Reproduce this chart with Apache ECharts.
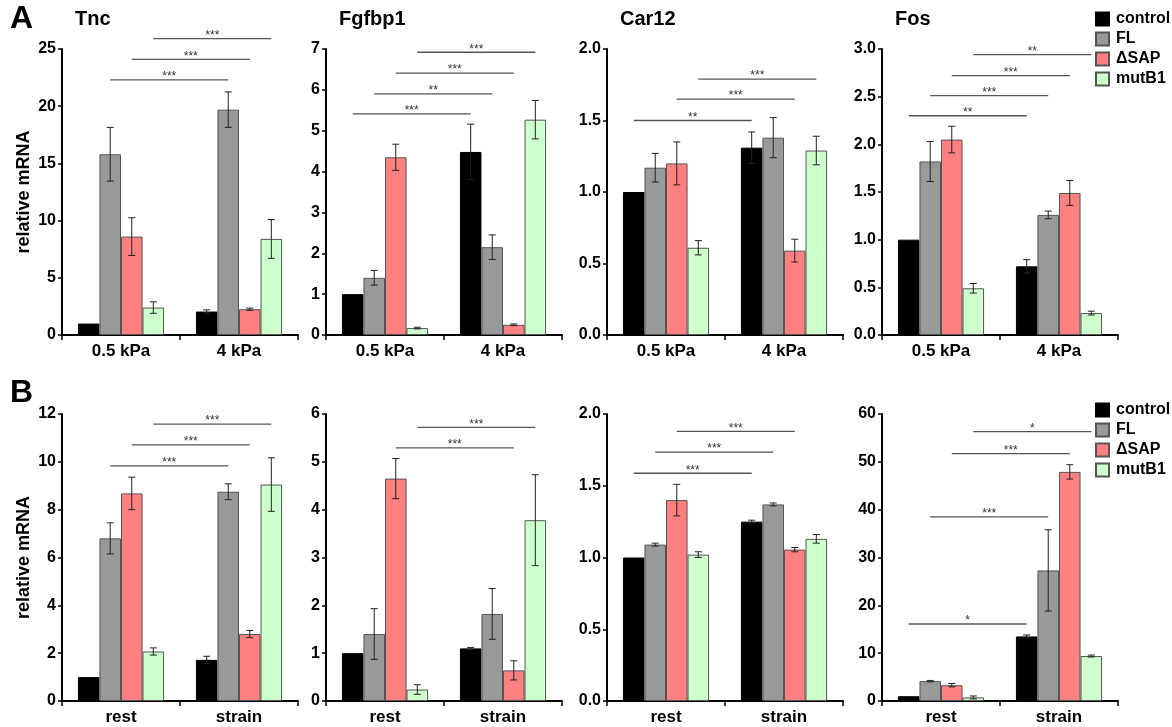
<!DOCTYPE html>
<html><head><meta charset="utf-8">
<script src="https://cdn.jsdelivr.net/npm/echarts@6/dist/echarts.min.js"></script>
<style>html,body{margin:0;padding:0;background:#fff}#c{width:1172px;height:727px}</style>
</head><body><div id="c"></div>
<script>
// ---------- data ----------
const seriesNames = ['control', 'FL', 'ΔSAP', 'mutB1'];
const catsA = ['0.5 kPa', '4 kPa'];
const catsB = ['rest', 'strain'];
const panelTitles = ['Tnc', 'Fgfbp1', 'Car12', 'Fos', '', '', '', ''];
const yMax = [25, 7, 2, 3, 12, 6, 2, 60];
const yInterval = [5, 1, 0.5, 0.5, 2, 1, 0.5, 10];
const yDecimals = [0, 0, 1, 1, 0, 0, 1, 0];

// means: [series][category]
const tncA_mean = [[1.0, 2.05], [15.8, 19.7], [8.6, 2.25], [2.4, 8.4]];
const tncA_err  = [[0, 0.15], [2.35, 1.55], [1.65, 0.1], [0.5, 1.7]];
const tncA_sigSeries = [1, 2, 3];
const tncA_sigY = [22.3, 24.1, 25.9];
const tncA_sigText = ['***', '***', '***'];

const fgfA_mean = [[1.0, 4.48], [1.4, 2.15], [4.35, 0.25], [0.17, 5.27]];
const fgfA_err  = [[0, 0.68], [0.18, 0.3], [0.32, 0.02], [0.02, 0.47]];
const fgfA_sigSeries = [0, 1, 2, 3];
const fgfA_sigY = [5.41, 5.9, 6.41, 6.92];
const fgfA_sigText = ['***', '**', '***', '***'];

const carA_mean = [[1.0, 1.31], [1.17, 1.38], [1.2, 0.59], [0.61, 1.29]];
const carA_err  = [[0, 0.11], [0.1, 0.14], [0.15, 0.08], [0.05, 0.1]];
const carA_sigSeries = [0, 2, 3];
const carA_sigY = [1.5, 1.65, 1.79];
const carA_sigText = ['**', '***', '***'];

const fosA_mean = [[1.0, 0.72], [1.82, 1.26], [2.05, 1.49], [0.49, 0.23]];
const fosA_err  = [[0, 0.07], [0.21, 0.04], [0.14, 0.13], [0.05, 0.02]];
const fosA_sigSeries = [0, 1, 2, 3];
const fosA_sigY = [2.3, 2.51, 2.72, 2.94];
const fosA_sigText = ['**', '***', '***', '**'];

const tncB_mean = [[1.0, 1.72], [6.8, 8.75], [8.68, 2.8], [2.07, 9.05]];
const tncB_err  = [[0, 0.15], [0.65, 0.33], [0.68, 0.15], [0.15, 1.12]];
const tncB_sigSeries = [1, 2, 3];
const tncB_sigY = [9.83, 10.71, 11.58];
const tncB_sigText = ['***', '***', '***'];

const fgfB_mean = [[1.0, 1.1], [1.4, 1.82], [4.65, 0.64], [0.24, 3.78]];
const fgfB_err  = [[0, 0.02], [0.53, 0.53], [0.42, 0.2], [0.1, 0.95]];
const fgfB_sigSeries = [2, 3];
const fgfB_sigY = [5.29, 5.72];
const fgfB_sigText = ['***', '***'];

const carB_mean = [[1.0, 1.25], [1.09, 1.37], [1.4, 1.055], [1.02, 1.13]];
const carB_err  = [[0, 0.01], [0.01, 0.01], [0.11, 0.015], [0.02, 0.03]];
const carB_sigSeries = [0, 1, 2];
const carB_sigY = [1.587, 1.734, 1.879];
const carB_sigText = ['***', '***', '***'];

const fosB_mean = [[1.0, 13.5], [4.15, 27.3], [3.3, 47.9], [0.75, 9.4]];
const fosB_err  = [[0, 0.3], [0.15, 8.5], [0.35, 1.5], [0.3, 0.2]];
const fosB_sigSeries = [0, 1, 2, 3];
const fosB_sigY = [16.1, 38.5, 51.7, 56.3];
const fosB_sigText = ['*', '***', '***', '*'];

// ---------- layout / style ----------
const FONT = "'Liberation Sans', Arial, sans-serif";
const colors = ['#000000', '#999999', '#ff8080', '#ccffcc'];
const GAP = 0.27;
const colLeft = [62, 326, 607, 882];
const rowTop = [49, 414];
const rowH = [286, 287];
const gridW = 236;

const panels = [
  [tncA_mean, tncA_err, tncA_sigSeries, tncA_sigY, tncA_sigText],
  [fgfA_mean, fgfA_err, fgfA_sigSeries, fgfA_sigY, fgfA_sigText],
  [carA_mean, carA_err, carA_sigSeries, carA_sigY, carA_sigText],
  [fosA_mean, fosA_err, fosA_sigSeries, fosA_sigY, fosA_sigText],
  [tncB_mean, tncB_err, tncB_sigSeries, tncB_sigY, tncB_sigText],
  [fgfB_mean, fgfB_err, fgfB_sigSeries, fgfB_sigY, fgfB_sigText],
  [carB_mean, carB_err, carB_sigSeries, carB_sigY, carB_sigText],
  [fosB_mean, fosB_err, fosB_sigSeries, fosB_sigY, fosB_sigText]
];

function offsetFor(api, s) {
  const band = api.size([1, 0])[0];
  const group = band * (1 - GAP);
  const bw = group / 4;
  return -group / 2 + bw * (s + 0.5);
}

const grids = [], xAxes = [], yAxes = [], series = [], titles = [];

titles.push({ text: 'A', left: 10, top: 3, padding: 0, textStyle: { fontFamily: FONT, fontSize: 32, fontWeight: 'bold', color: '#000' } });
titles.push({ text: 'B', left: 10, top: 377, padding: 0, textStyle: { fontFamily: FONT, fontSize: 32, fontWeight: 'bold', color: '#000' } });

panels.forEach((pd, p) => {
  const row = p < 4 ? 0 : 1, col = p % 4;
  const [mean, err, sigS, sigY, sigT] = pd;
  grids.push({ left: colLeft[col], top: rowTop[row], width: gridW, height: rowH[row] });
  xAxes.push({
    type: 'category', gridIndex: p, data: row === 0 ? catsA : catsB,
    axisLine: { lineStyle: { color: '#000', width: 2 } },
    axisTick: { show: true, length: 5, lineStyle: { color: '#000', width: 1.5 } },
    axisLabel: { color: '#000', fontFamily: FONT, fontWeight: 'bold', fontSize: 17, margin: 8 }
  });
  const yax = {
    type: 'value', gridIndex: p, min: 0, max: yMax[p], interval: yInterval[p],
    axisLine: { show: true, lineStyle: { color: '#000', width: 2 } },
    axisTick: { show: true, length: 4, lineStyle: { color: '#000', width: 1.5 } },
    splitLine: { show: false },
    axisLabel: { color: '#000', fontFamily: FONT, fontWeight: 'bold', fontSize: 16, margin: 6,
      formatter: (v) => v.toFixed(yDecimals[p]) }
  };
  if (col === 0) {
    yax.name = 'relative mRNA';
    yax.nameLocation = 'middle';
    yax.nameGap = 29;
    yax.nameTextStyle = { color: '#000', fontFamily: FONT, fontWeight: 'bold', fontSize: 18 };
  }
  yAxes.push(yax);
  if (panelTitles[p]) {
    titles.push({ text: panelTitles[p], left: colLeft[col] + 13, top: 9, padding: 0,
      textStyle: { fontFamily: FONT, fontSize: 20, fontWeight: 'bold', color: '#000' } });
  }
  for (let s = 0; s < 4; s++) {
    series.push({
      type: 'bar', name: seriesNames[s], xAxisIndex: p, yAxisIndex: p,
      data: mean[s], barGap: '0%', barCategoryGap: (GAP * 100) + '%',
      itemStyle: { color: colors[s], borderColor: s === 0 ? '#000' : '#555', borderWidth: 1 },
      z: 2
    });
  }
  const errData = [];
  for (let s = 0; s < 4; s++) for (let c = 0; c < 2; c++) {
    if (err[s][c] > 0) errData.push([c, mean[s][c] - err[s][c], mean[s][c] + err[s][c], s]);
  }
  series.push({
    type: 'custom', xAxisIndex: p, yAxisIndex: p, z: 5, clip: false, silent: true,
    encode: { x: 0, y: [1, 2] }, data: errData,
    renderItem: (params, api) => {
      const c = api.value(0), lo = api.value(1), hi = api.value(2), s = api.value(3);
      const pLo = api.coord([c, lo]), pHi = api.coord([c, hi]);
      const x = pLo[0] + offsetFor(api, s);
      const cap = 3.5;
      const st = { stroke: '#222', lineWidth: 1 };
      return { type: 'group', children: [
        { type: 'line', shape: { x1: x, y1: pLo[1], x2: x, y2: pHi[1] }, style: st },
        { type: 'line', shape: { x1: x - cap, y1: pHi[1], x2: x + cap, y2: pHi[1] }, style: st },
        { type: 'line', shape: { x1: x - cap, y1: pLo[1], x2: x + cap, y2: pLo[1] }, style: st }
      ] };
    }
  });
  const sigData = sigS.map((s, i) => [0, sigY[i], s]);
  series.push({
    type: 'custom', xAxisIndex: p, yAxisIndex: p, z: 6, clip: false, silent: true,
    encode: { x: 0, y: 1 }, data: sigData,
    renderItem: (params, api) => {
      const y = api.value(1), s = api.value(2);
      const off = offsetFor(api, s);
      const p0 = api.coord([0, y]), p1 = api.coord([1, y]);
      const x0 = p0[0] + off, x1 = p1[0] + off;
      return { type: 'group', children: [
        { type: 'line', shape: { x1: x0, y1: p0[1], x2: x1, y2: p1[1] }, style: { stroke: '#555', lineWidth: 1.3 } },
        { type: 'text', style: { text: sigT[params.dataIndex], x: (x0 + x1) / 2, y: p0[1] + 3,
          align: 'center', verticalAlign: 'bottom', fontFamily: FONT, fontSize: 12, fontWeight: 'normal', fill: '#333' } }
      ] };
    }
  });
});

const legendBase = {
  orient: 'vertical', left: 1095, icon: 'rect', itemWidth: 13, itemHeight: 13, itemGap: 4, padding: 0,
  data: seriesNames,
  textStyle: { color: '#000', fontFamily: FONT, fontWeight: 'bold', fontSize: 16, lineHeight: 16, padding: [0, 0, 0, 2] }
};

const chart = echarts.init(document.getElementById('c'));
chart.setOption({
  animation: false,
  backgroundColor: '#fff',
  title: titles,
  legend: [Object.assign({}, legendBase, { top: 11 }), Object.assign({}, legendBase, { top: 402 })],
  grid: grids, xAxis: xAxes, yAxis: yAxes, series: series
});
</script></body></html>
